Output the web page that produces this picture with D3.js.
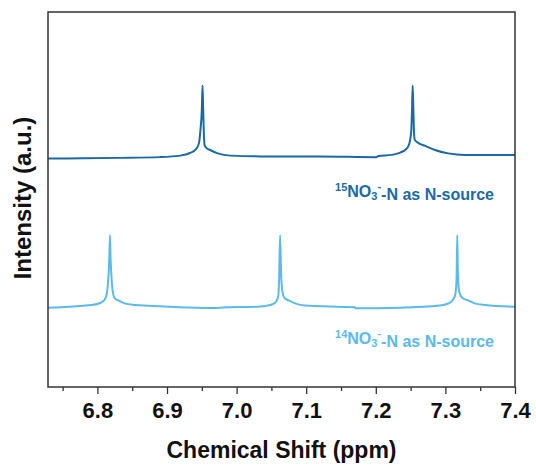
<!DOCTYPE html>
<html>
<head>
<meta charset="utf-8">
<script src="https://cdn.jsdelivr.net/npm/d3@7"></script>
<style>
  body { margin: 0; background: #fff; }
  text { font-family: "Liberation Sans", Arial, sans-serif; font-weight: bold; }
</style>
</head>
<body>
<script>
// NMR spectra, chemical shift (ppm) vs intensity (a.u.)
// values

// 15NO3- sample (upper trace)
var ppm15 = [6.729, 6.780, 6.833, 6.890, 6.919, 6.933, 6.942, 6.946, 6.948, 6.950, 6.951, 6.952, 6.953, 6.954, 6.957, 6.962, 6.973, 6.991, 7.034, 7.120, 7.200, 7.204, 7.223, 7.235, 7.244, 7.248, 7.251, 7.252, 7.253, 7.254, 7.255, 7.256, 7.260, 7.271, 7.285, 7.304, 7.328, 7.400];
var int15 = [60.9, 61.0, 61.1, 61.3, 61.7, 62.4, 63.5, 65.1, 68.5, 73.9, 80.4, 73.9, 67.2, 64.5, 63.7, 63.2, 62.3, 61.7, 61.5, 61.5, 61.3, 61.6, 61.9, 62.5, 63.5, 64.8, 68.5, 73.9, 80.4, 73.9, 67.5, 65.9, 65.2, 64.3, 63.2, 62.3, 61.9, 61.9];

// 14NO3- sample (lower trace)
var ppm14 = [6.729, 6.791, 6.804, 6.810, 6.813, 6.815, 6.817, 6.818, 6.819, 6.821, 6.823, 6.825, 6.830, 6.839, 6.854, 6.873, 6.973, 6.975, 7.034, 7.048, 7.055, 7.058, 7.060, 7.061, 7.0625, 7.064, 7.066, 7.069, 7.075, 7.084, 7.098, 7.170, 7.171, 7.235, 7.292, 7.304, 7.310, 7.314, 7.316, 7.317, 7.318, 7.320, 7.325, 7.333, 7.342, 7.357, 7.400];
var int14 = [21.15, 21.87, 22.4, 23.2, 24.5, 27.2, 33.9, 40.5, 33.9, 27.2, 24.5, 23.65, 23.07, 22.3, 21.87, 21.68, 21.07, 21.15, 21.47, 21.87, 22.4, 23.2, 24.5, 28.5, 40.5, 29.9, 25.3, 23.7, 23.07, 22.3, 21.73, 21.25, 21.0, 21.15, 21.73, 22.27, 23.07, 24.5, 28.5, 40.5, 29.9, 25.3, 23.65, 23.07, 22.3, 21.87, 21.41];

var majorTicks = [6.8, 6.9, 7.0, 7.1, 7.2, 7.3, 7.4];
var minorTicks = [6.75, 6.85, 6.95, 7.05, 7.15, 7.25, 7.35];

var labels = ["15", "14"];
var colors = ["#1b69a7", "#5cb9ec"];

var margin = {top: 12, right: 21, bottom: 79, left: 48},
    width = 536 - margin.left - margin.right,
    height = 466 - margin.top - margin.bottom;

var svg = d3.select("body")
  .append("svg")
    .attr("width", 536)
    .attr("height", 466)
  .append("g")
    .attr("transform", "translate(" + margin.left + "," + margin.top + ")");

var x = d3.scaleLinear()
  .domain([6.729, 7.4])
  .range([0, width]);
var y = d3.scaleLinear()
  .domain([0, 100])
  .range([height, 0]);

svg.append("clipPath")
    .attr("id", "clip")
  .append("rect")
    .attr("width", width)
    .attr("height", height);

var line = d3.line()
  .x(function(d) { return x(d[0]); })
  .y(function(d) { return y(d[1]); })
  .curve(d3.curveMonotoneX);

var series = [d3.zip(ppm15, int15), d3.zip(ppm14, int14)];

svg.selectAll(".trace")
  .data(series)
  .enter().append("path")
    .attr("class", "trace")
    .attr("clip-path", "url(#clip)")
    .attr("d", line)
    .style("fill", "none")
    .style("stroke", function(d, i) { return colors[i]; })
    .style("stroke-width", 2)
    .style("stroke-linejoin", "round");

// minor ticks
svg.append("g")
  .attr("transform", "translate(0," + height + ")")
  .call(d3.axisBottom(x).tickValues(minorTicks).tickSize(4).tickFormat(""))
  .call(function(g) { g.select(".domain").remove(); })
  .selectAll("line").style("stroke", "#333").style("stroke-width", 1.3);

// major ticks
var xAxis = svg.append("g")
  .attr("transform", "translate(0," + height + ")")
  .call(d3.axisBottom(x).tickValues(majorTicks).tickSize(7).tickPadding(8)
        .tickFormat(d3.format(".1f")));
xAxis.select(".domain").remove();
xAxis.selectAll("line").style("stroke", "#333").style("stroke-width", 1.3);
xAxis.selectAll("text")
  .style("font-size", "22px")
  .style("fill", "#111");

// frame
svg.append("rect")
  .attr("width", width)
  .attr("height", height)
  .style("fill", "none")
  .style("stroke", "#333")
  .style("stroke-width", 1.5);

// axis titles
svg.append("text")
  .attr("x", width / 2)
  .attr("y", height + 71)
  .attr("text-anchor", "middle")
  .style("font-size", "23px")
  .style("fill", "#111")
  .text("Chemical Shift (ppm)");

svg.append("text")
  .attr("transform", "translate(-17," + 186 + ") rotate(-90)")
  .attr("text-anchor", "middle")
  .style("font-size", "24px")
  .style("fill", "#111")
  .text("Intensity (a.u.)");

// trace labels
var labelY = [183, 330];
labels.forEach(function(iso, i) {
  var t = svg.append("text")
    .attr("x", 446)
    .attr("y", labelY[i])
    .attr("text-anchor", "end")
    .style("font-size", "16px")
    .style("fill", colors[i]);
  t.append("tspan").attr("dy", "-0.4em").style("font-size", "11px").text(iso);
  t.append("tspan").attr("dy", "0.4em").text("NO");
  t.append("tspan").attr("dy", "0.3em").style("font-size", "11px").text("3");
  t.append("tspan").attr("dy", "-0.9em").style("font-size", "11px").text("-");
  t.append("tspan").attr("dy", "0.6em").text("-N as N-source");
});
</script>
</body>
</html>
